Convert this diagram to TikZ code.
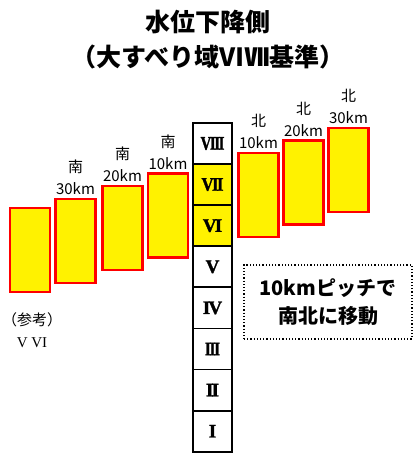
\documentclass[tikz,border=0pt]{standalone}
\usepackage{fontspec}
\usepackage{graphicx}
\setmainfont{Liberation Serif}
\newfontfamily\jp{Noto Sans CJK JP}
\newfontfamily\numfont[FakeBold=1.6]{Liberation Serif Bold}
\newcommand\rk{\kern-1.8pt}
\usetikzlibrary{positioning}

\begin{document}
\begin{tikzpicture}[
  x=1pt,y=-1pt,
  node distance=1pt,
  zone/.style={draw=red,fill=yellow,line width=2.2pt,minimum width=40pt,minimum height=84pt,inner sep=0pt},
  cell/.style={draw,line width=1.8pt,minimum width=39pt,minimum height=41.1pt,inner sep=0pt,
    font=\numfont\fontsize{19}{19}\selectfont},
  lbl/.style={align=center,inner sep=0pt,font=\jp\fontsize{15}{22}\selectfont}
]
\useasboundingbox (0,0) rectangle (415,455);
\node[font=\jp\bfseries\fontsize{25}{25}\selectfont] (title) at (208,22) {水位下降側};
\node[font=\jp\bfseries\fontsize{25}{25}\selectfont] (sub) at (208,57) {（大すべり域ⅥⅦ基準）};

\node[cell] (r8) at (212.5,143.5) {\scalebox{0.78}[1]{V\rk I\rk I\rk I}};
\node[cell,fill=yellow] (r7) at (212.5,184.6) {\scalebox{0.88}[1]{V\rk I\rk I}};
\node[cell,fill=yellow] (r6) at (212.5,225.7) {V\rk I};
\node[cell] (r5) at (212.5,266.8) {V};
\node[cell] (r4) at (212.5,307.9) {I\rk V};
\node[cell] (r3) at (212.5,349.0) {\scalebox{0.82}[1]{I\rk I\rk I}};
\node[cell] (r2) at (212.5,390.1) {I\rk I};
\node[cell] (r1) at (212.5,431.2) {I};

\node[zone] (ref) at (30,250) {};
\node[zone] (s30) at (75.5,241) {};
\node[zone] (s20) at (122.5,228) {};
\node[zone] (s10) at (168,215.5) {};
\node[zone] (n10) at (258.5,195) {};
\node[zone] (n20) at (303.5,182.5) {};
\node[zone] (n30) at (348.5,170) {};

\node[lbl,above=3pt of s30] (l30s) {南\\30km};
\node[lbl,above=3pt of s20] (l20s) {南\\20km};
\node[lbl,above=3pt of s10] (l10s) {南\\10km};
\node[lbl,above=3pt of n10] (l10n) {北\\10km};
\node[lbl,above=3pt of n20] (l20n) {北\\20km};
\node[lbl,above=3pt of n30] (l30n) {北\\30km};
\node[lbl] (note) at (32,330) {（参考）\\{\rmfamily V VI}};

\node[draw,dotted,line width=1.2pt,minimum width=168pt,minimum height=74pt,align=center,
  font=\jp\bfseries\fontsize{20}{28}\selectfont] (pitch) at (328,302) {10kmピッチで\\南北に移動};
\end{tikzpicture}
\end{document}
